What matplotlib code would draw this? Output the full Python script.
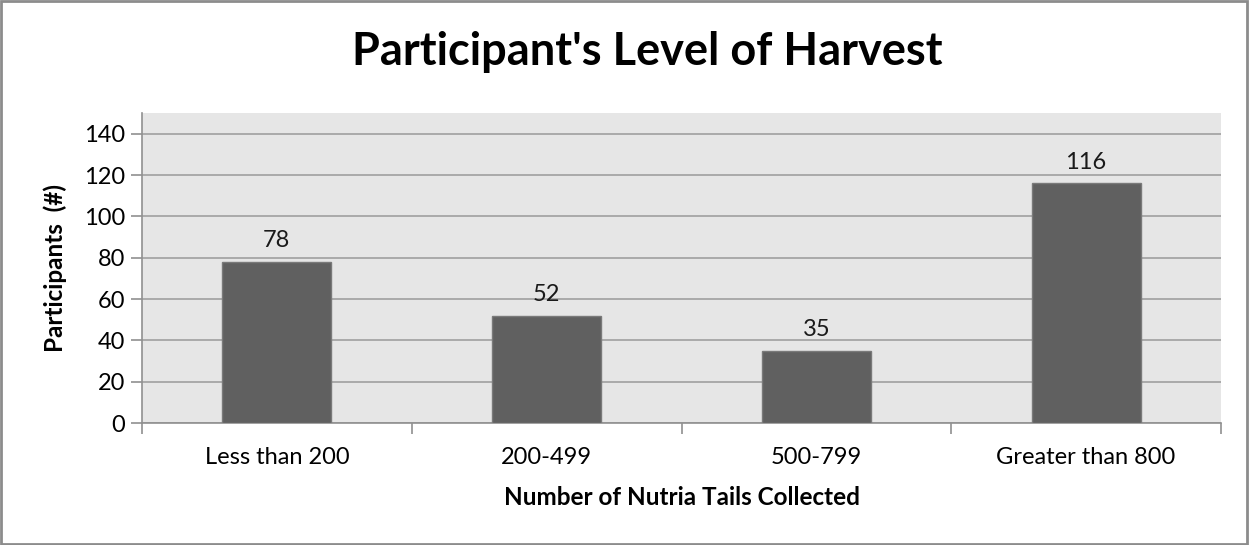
import matplotlib; matplotlib.use("Agg")
import matplotlib.pyplot as plt
from matplotlib.patches import Rectangle

categories = ["Less than 200", "200-499", "500-799", "Greater than 800"]
participants = [78, 52, 35, 116]
yticks = [0, 20, 40, 60, 80, 100, 120, 140]

plt.rcParams["font.family"] = ["Lato", "DejaVu Sans"]

W, H = 1249, 545
fig = plt.figure(figsize=(W/100, H/100), dpi=100)
ax = fig.add_axes([142/W, (H-423)/H, (1221-142)/W, (423-113)/H])
ax.set_facecolor("#e6e6e6")

x = range(len(categories))
ax.bar(x, participants, width=0.405, color="#606060", edgecolor="#7a7a7a", linewidth=1, zorder=3)
for i, v in zip(x, participants):
    ax.text(i, v + 5, str(v), ha="center", va="bottom", fontsize=17, color="#1a1a1a")

ax.set_xlim(-0.5, len(categories) - 0.5)
ax.set_ylim(0, 150)
ax.set_yticks(yticks)
ax.set_yticklabels([str(t) for t in yticks], fontsize=17)
ax.yaxis.grid(True, color="#a0a0a0", linewidth=1.2, zorder=0)
ax.set_axisbelow(True)

ax.set_xticks([i - 0.5 for i in range(len(categories) + 1)])
ax.set_xticklabels([])
ax.set_xticks(list(x), minor=True)
ax.set_xticklabels(categories, minor=True, fontsize=17)
ax.tick_params(axis="x", which="minor", length=0, pad=17)
ax.tick_params(axis="x", which="major", length=8, color="#909090", width=1.2)
ax.tick_params(axis="y", length=8, color="#909090", width=1.2, pad=4)

for s in ["top", "right"]:
    ax.spines[s].set_visible(False)
for s in ["left", "bottom"]:
    ax.spines[s].set_color("#909090")
    ax.spines[s].set_linewidth(1.2)

ax.set_xlabel("Number of Nutria Tails Collected", fontsize=17.5, fontweight="bold", labelpad=13)
ax.set_ylabel("Participants  (#)", fontsize=17.5, fontweight="bold", labelpad=12)
fig.text(0.5*(353+942)/W, 1 - 52/H, "Participant's Level of Harvest", ha="center", va="center",
         fontsize=32.5, fontweight="bold")

fig.patches.append(Rectangle((0.001, 0.002), 0.997, 0.996, transform=fig.transFigure,
                             fill=False, edgecolor="#8c8c8c", linewidth=2))

fig.savefig("out.png", dpi=100)
